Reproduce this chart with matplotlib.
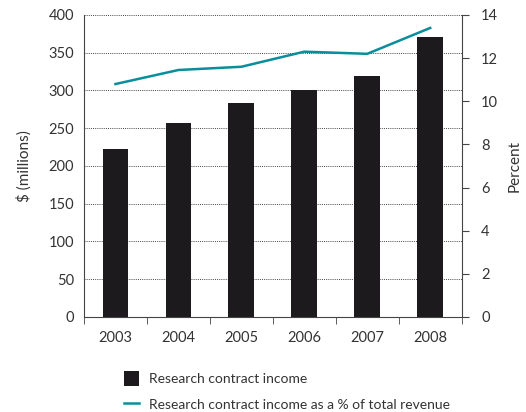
import matplotlib.pyplot as plt
import numpy as np

years = ['2003', '2004', '2005', '2006', '2007', '2008']
income = [222, 257, 283, 301, 319, 371]
pct_revenue = [10.8, 11.45, 11.6, 12.3, 12.2, 13.4]

plt.rcParams['font.family'] = ['Lato', 'DejaVu Sans']
plt.rcParams['font.size'] = 10.5
txt = '#333333'

fig = plt.figure(figsize=(5.26, 4.12), dpi=100)
ax = fig.add_axes([0.1597, 0.2306, 0.718, 0.733])
ind = np.arange(len(years))

# dotted grid
for v in range(50, 401, 50):
	ax.axhline(v, color='#444444', linestyle=(0, (1, 1.2)), linewidth=0.7, zorder=1)

bars = ax.bar(ind, income, width=0.41, color='#1c1a1d', zorder=2, label='Research contract income')
ax.set_xlim(-0.5, len(years) - 0.5)
ax.set_ylim(0, 400)
ax.set_yticks(range(0, 401, 50))
ax.set_ylabel('$ (millions)', color=txt, fontsize=11, labelpad=12)
ax.set_xticks(ind)
ax.set_xticklabels(years, color=txt)
ax.set_xticks(np.arange(-0.5, len(years)), minor=True)
ax.tick_params(axis='x', which='major', length=0, pad=10)
ax.tick_params(axis='x', which='minor', length=5, color='#444444', direction='out')
ax.tick_params(axis='y', length=0, colors=txt, pad=7)
for s in ['top', 'right']:
	ax.spines[s].set_visible(False)
ax.spines['left'].set_color('#444444')
ax.spines['bottom'].set_color('#444444')

ax2 = ax.twinx()
line, = ax2.plot(ind, pct_revenue, color='#0a8e9c', linewidth=1.8, zorder=3,
	label='Research contract income as a % of total revenue')
ax2.set_ylim(0, 14)
ax2.set_yticks(range(0, 15, 2))
ax2.set_ylabel('Percent', color=txt, fontsize=11, labelpad=7)
ax2.tick_params(axis='y', length=5, colors=txt, direction='out', pad=9)
ax2.tick_params(axis='y', color='#444444')
for s in ['top', 'left', 'bottom']:
	ax2.spines[s].set_visible(False)
ax2.spines['right'].set_color('#444444')

fig.legend([bars, line], [bars.get_label(), line.get_label()], loc='upper left',
	bbox_to_anchor=(0.225, 0.112), frameon=False, handlelength=1.1, handleheight=1.2,
	handletextpad=0.7, labelspacing=0.8, fontsize=10, labelcolor=txt, borderaxespad=0)

fig.savefig('out.png', dpi=100)
